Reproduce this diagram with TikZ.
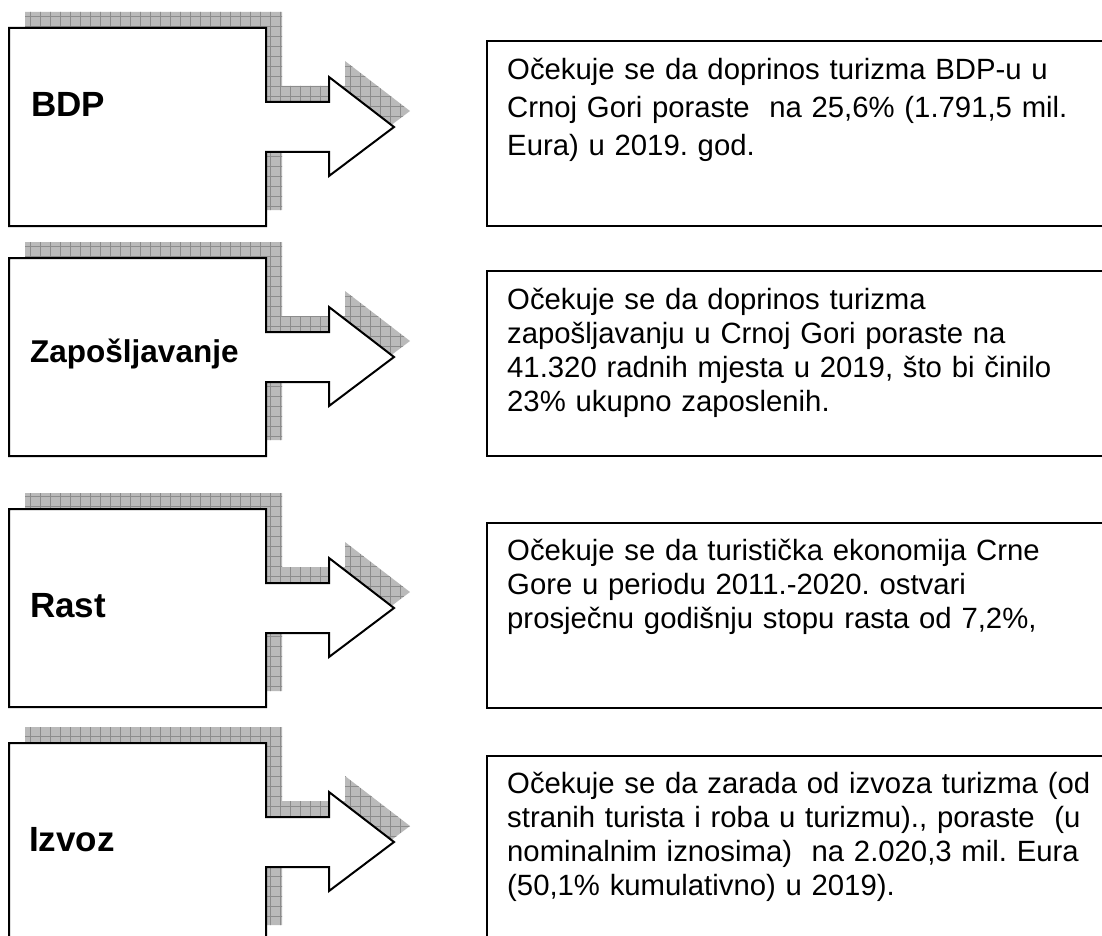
\documentclass[tikz,border=0pt]{standalone}
\usepackage{fontspec}
\setmainfont{Liberation Sans}
\usepackage{tikz}
\usetikzlibrary{patterns.meta}
\frenchspacing

\begin{document}
\begin{tikzpicture}[
        x=1pt, y=-1pt,
        declare function={
            BoxL=9;
            BoxR=266;
            BoxH=198;
            ShaftT=74;
            ShaftB=124;
            HeadX=329;
            HeadT=49;
            HeadB=148;
            TipX=394;
            TipY=99;
        },
        hatchshadow/.style={fill=black!27, postaction={pattern color=black!45, pattern={Hatch[angle=0, distance=10pt, line width=0.6pt]}}},
        callout/.style={draw, fill=white, line width=2pt, line join=miter},
        infobox/.style={draw, line width=2pt},
        rowlabel/.style={anchor=base west, inner sep=0pt},
        info/.style={anchor=base west, inner sep=0pt, text width=590pt, align=left},
    ]
        \useasboundingbox (0, 0) rectangle (1102, 936);
        \clip (0, 0) rectangle (1102, 936);

        % arrow boxes on the left, with their hatched shadows
        \foreach \t in {28, 258, 509, 743} {
            \fill[hatchshadow, shift={(16,-16)}] (BoxL, \t) -- (BoxR, \t) -- (BoxR, {\t+ShaftT}) -- (HeadX, {\t+ShaftT}) -- (HeadX, {\t+HeadT}) -- (TipX, {\t+TipY}) -- (HeadX, {\t+HeadB}) -- (HeadX, {\t+ShaftB}) -- (BoxR, {\t+ShaftB}) -- (BoxR, {\t+BoxH}) -- (BoxL, {\t+BoxH}) -- cycle;
            \draw[callout] (BoxL, \t) -- (BoxR, \t) -- (BoxR, {\t+ShaftT}) -- (HeadX, {\t+ShaftT}) -- (HeadX, {\t+HeadT}) -- (TipX, {\t+TipY}) -- (HeadX, {\t+HeadB}) -- (HeadX, {\t+ShaftB}) -- (BoxR, {\t+ShaftB}) -- (BoxR, {\t+BoxH}) -- (BoxL, {\t+BoxH}) -- cycle;
        }

        \node[rowlabel, font=\bfseries\fontsize{35}{35}\selectfont] (bdp) at (31, 117) {BDP};
        \node[rowlabel, font=\bfseries\fontsize{31.5}{31.5}\selectfont] (zaposljavanje) at (30, 362) {Zapošljavanje};
        \node[rowlabel, font=\bfseries\fontsize{35}{35}\selectfont] (rast) at (30, 617) {Rast};
        \node[rowlabel, font=\bfseries\fontsize{35}{35}\selectfont] (izvoz) at (29, 851) {Izvoz};

        % text boxes on the right
        \draw[infobox] (487, 41) rectangle (1120, 226);
        \draw[infobox] (487, 271) rectangle (1120, 456);
        \draw[infobox] (487, 523) rectangle (1120, 708);
        \draw[infobox] (487, 756) rectangle (1120, 960);

        \node[info, font=\fontsize{29.3}{38}\selectfont] (bdpText) at (507, 80)
            {Očekuje se da doprinos turizma BDP-u u\\ Crnoj Gori poraste\ \ na 25,6\% (1.791,5 mil.\\ Eura) u 2019. god.};
        \node[info, font=\fontsize{29.3}{34}\selectfont] (zaposljavanjeText) at (507, 309)
            {Očekuje se da doprinos turizma\\ zapošljavanju u Crnoj Gori poraste na\\ 41.320 radnih mjesta u 2019, što bi činilo\\ 23\% ukupno zaposlenih.};
        \node[info, font=\fontsize{29.3}{34}\selectfont] (rastText) at (507, 560)
            {Očekuje se da turistička ekonomija Crne\\ Gore u periodu 2011.-2020. ostvari\\ prosječnu godišnju stopu rasta od 7,2\%,};
        \node[info, font=\fontsize{29.3}{34}\selectfont] (izvozText) at (507, 793)
            {Očekuje se da zarada od izvoza turizma (od\\ stranih turista i roba u turizmu)., poraste\ \ (u\\ nominalnim iznosima)\ \ na 2.020,3 mil. Eura\\ (50,1\% kumulativno) u 2019).};
\end{tikzpicture}
\end{document}
